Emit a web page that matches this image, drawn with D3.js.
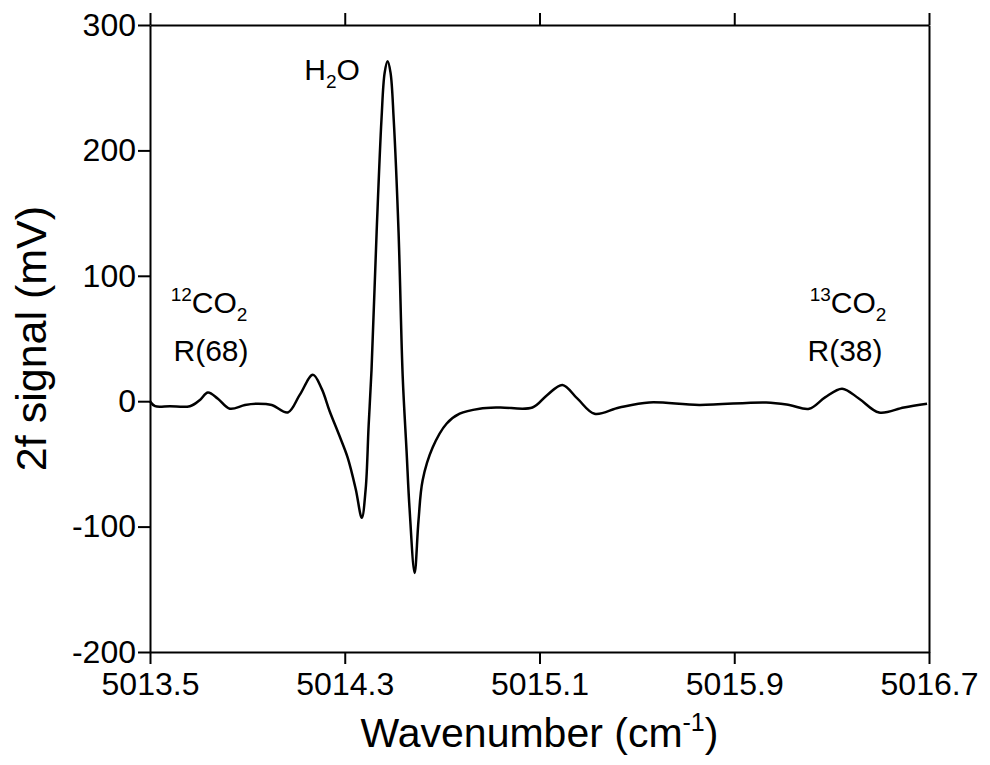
<!DOCTYPE html>
<html><head><meta charset="utf-8">
<script src="https://cdn.jsdelivr.net/npm/d3@7"></script>
<style>
body{margin:0;background:#fff;}
text{font-family:"Liberation Sans",Arial,sans-serif;fill:#000;}
</style></head>
<body>
<svg id="c" width="990" height="765"></svg>
<script>
const wavenumber = [5013.500,5013.521,5013.582,5013.664,5013.705,5013.738,5013.779,5013.828,5013.890,5013.939,5014.000,5014.066,5014.115,5014.169,5014.205,5014.238,5014.279,5014.312,5014.345,5014.370,5014.386,5014.398,5014.410,5014.431,5014.451,5014.464,5014.476,5014.488,5014.501,5014.521,5014.538,5014.554,5014.566,5014.587,5014.603,5014.620,5014.661,5014.718,5014.772,5014.854,5014.936,5015.071,5015.132,5015.194,5015.256,5015.326,5015.428,5015.551,5015.756,5016.031,5016.126,5016.208,5016.273,5016.343,5016.413,5016.495,5016.597,5016.692];
const signal = [0,-4,-4,-4,1,7,2,-6,-3,-2,-3,-9,5,21,10,-8,-28,-45,-70,-93,-70,-20,25,135,225,262,271,262,225,135,20,-40,-85,-137,-95,-63,-37,-18,-10,-6,-5,-5,5,13,2,-10,-5,-1,-3,-1,-3,-6,3,10,2,-9,-5,-2];
const xTicks = [5013.5,5014.3,5015.1,5015.9,5016.7];
const yTicks = [-200,-100,0,100,200,300];

const W=990,H=765,m={l:150,r:61,t:25,b:113};
const svg=d3.select("#c");
const x=d3.scaleLinear().domain([5013.5,5016.7]).range([m.l,W-m.r]);
const y=d3.scaleLinear().domain([-200,300]).range([H-m.b,m.t]);

function style(g){g.selectAll(".domain").attr("stroke","#000").attr("stroke-width",2);
 g.selectAll(".tick line").attr("stroke","#000").attr("stroke-width",2);
 g.selectAll(".tick text").style("font-size","32px").attr("fill","#000");}

svg.append("g").attr("transform",`translate(0,${H-m.b})`)
 .call(d3.axisBottom(x).tickValues(xTicks).tickFormat(d3.format(".1f")).tickSizeInner(12).tickSizeOuter(0).tickPadding(8))
 .call(style);
svg.append("g").attr("transform",`translate(0,${m.t})`)
 .call(d3.axisTop(x).tickValues(xTicks).tickFormat("").tickSizeInner(12).tickSizeOuter(0))
 .call(style);
svg.append("g").attr("transform",`translate(${m.l},0)`)
 .call(d3.axisLeft(y).tickValues(yTicks).tickFormat(d=>String(d)).tickSizeInner(12).tickSizeOuter(0).tickPadding(2))
 .call(style);
svg.append("g").attr("transform",`translate(${W-m.r},0)`)
 .call(d3.axisRight(y).tickValues([]).tickSizeOuter(0))
 .call(style);

const data=wavenumber.map((w,i)=>({w,s:signal[i]}));
svg.append("path").datum(data).attr("fill","none").attr("stroke","#000").attr("stroke-width",2.5)
 .attr("stroke-linejoin","round")
 .attr("d",d3.line().x(d=>x(d.w)).y(d=>y(d.s)).curve(d3.curveCatmullRom.alpha(0.5)));

// axis titles
const xt=svg.append("text").attr("x",(m.l+W-m.r)/2).attr("y",747).attr("text-anchor","middle").style("font-size","41px");
xt.append("tspan").text("Wavenumber (cm");
xt.append("tspan").attr("dy",-16).style("font-size","25px").text("-1");
xt.append("tspan").attr("dy",16).text(")");
svg.append("text").attr("transform",`translate(46,${(m.t+H-m.b)/2}) rotate(-90)`).attr("text-anchor","middle").style("font-size","43px").text("2f signal (mV)");

function label(cx,by,sup,base,sub){
 const t=svg.append("text").attr("x",cx).attr("y",by).attr("text-anchor","middle").style("font-size","30px");
 t.append("tspan").attr("dy",-12).style("font-size","19px").text(sup);
 t.append("tspan").attr("dy",12).text(base);
 t.append("tspan").attr("dy",8).style("font-size","19px").text(sub);
 return t;}
const h=svg.append("text").attr("x",332).attr("y",80).attr("text-anchor","middle").style("font-size","30px");
h.append("tspan").text("H");h.append("tspan").attr("dy",8).style("font-size","19px").text("2");h.append("tspan").attr("dy",-8).text("O");
label(209,313,"12","CO","2");
svg.append("text").attr("x",211).attr("y",361).attr("text-anchor","middle").style("font-size","30px").text("R(68)");
label(848,313,"13","CO","2");
svg.append("text").attr("x",845).attr("y",361).attr("text-anchor","middle").style("font-size","30px").text("R(38)");
</script>
</body></html>
